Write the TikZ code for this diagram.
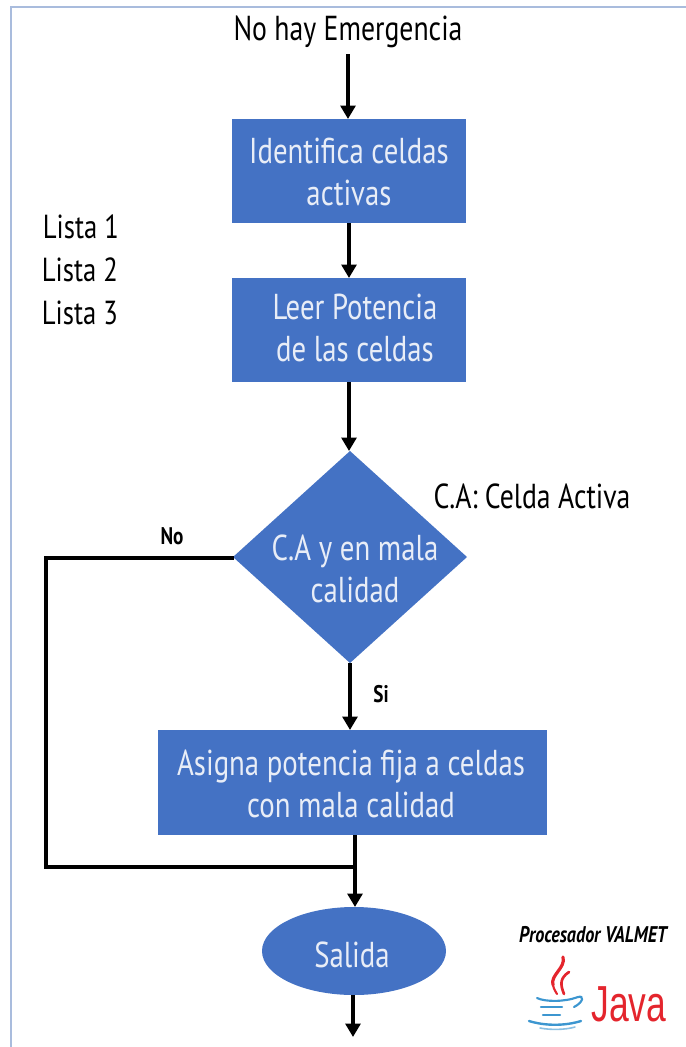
\documentclass[tikz,border=0pt]{standalone}
\usepackage{fontspec}
\setmainfont[FakeStretch=0.8]{PT Sans}
\newfontfamily\javafont[FakeStretch=0.7]{Liberation Sans}
\usetikzlibrary{arrows.meta,shapes.geometric,calc}
\definecolor{fillblue}{HTML}{4472C4}
\definecolor{framecol}{HTML}{A9BCDD}
\definecolor{softwhite}{HTML}{E8EDF7}
\definecolor{javared}{HTML}{E4252D}
\definecolor{javablue}{HTML}{3C96D0}
\tikzset{
 blk/.style={font=\fontsize{26}{26}\selectfont,text=black,inner sep=0,align=center},
 lst/.style={font=\fontsize{25}{25}\selectfont,text=black,inner sep=0,align=center},
 wht/.style={font=\fontsize{27}{31}\selectfont,text=softwhite,inner sep=0,align=center},
 smallb/.style={font=\bfseries\fontsize{18}{18}\selectfont,text=black,inner sep=0},
 conn/.style={line width=2.7pt,draw=black},
 arr/.style={conn,-{Triangle[length=10pt,width=11pt]}},
}
\begin{document}
\begin{tikzpicture}[x=0.75pt,y=-0.75pt]
\useasboundingbox (0,0) rectangle (686,1047);
\draw[framecol,line width=1.5pt] (10.5,1047) -- (10.5,6.5) -- (686,6.5);
% boxes
\fill[fillblue] (232,119) rectangle (466,223);
\node[coordinate] (b1n) at (348,119) {};
\node[coordinate] (b1s) at (349,223) {};
\fill[fillblue] (232,278) rectangle (466,382);
\node[coordinate] (b2n) at (349,278) {};
\node[coordinate] (b2s) at (349,382) {};
\fill[fillblue] (350,451) -- (467,557) -- (350,663) -- (233,557) -- cycle;
\node[coordinate] (dn) at (349,451) {};
\node[coordinate] (ds) at (350,663) {};
\node[coordinate] (dw) at (234,558) {};
\fill[fillblue] (158,730) rectangle (547,835);
\node[coordinate] (b3n) at (350,730) {};
\node[coordinate] (b3s) at (355,835) {};
\fill[fillblue] (354,951) ellipse [x radius=92,y radius=44];
\node[coordinate] (en) at (355,907) {};
\node[coordinate] (es) at (353,995) {};
% texts
\node[blk] (top) at (348,32) {No hay Emergencia};
\node[wht] (t1) at (349,172) {Identifica celdas\\activas};
\node[wht] (t2) at (355,328) {Leer Potencia\\de las celdas};
\node[wht] (t3) at (355,569) {C.A y en mala\\calidad};
\node[wht] (t4) at (351,784) {Asigna potencia fija a celdas\\con mala calidad};
\node[wht] (t5) at (352,955) {Salida};
\node[lst] (l1) at (81,227) {Lista 1};
\node[lst] (l2) at (80,270) {Lista 2};
\node[lst] (l3) at (80,313) {Lista 3};
\node[blk] (ca) at (532,496) {C.A: Celda Activa};
\node[smallb] (no) at (172,536) {No};
\node[smallb] (si) at (381,694) {Si};
\node[inner sep=0,font=\bfseries\itshape\fontsize{17}{17}\selectfont] (pv) at (593,935) {Procesador VALMET};
% connectors
\coordinate (s0) at (348,54);
\coordinate (junc) at (355,867);
\coordinate (c1) at (46,558);
\coordinate (c2) at (46,867);
\coordinate (end) at (353,1037);
\draw[arr] (s0) -- (b1n);
\draw[arr] (b1s) -- (b2n);
\draw[arr] (b2s) -- (dn);
\draw[arr] (ds) -- (b3n);
\draw[conn] (dw) -- (c1) -- (c2) -- (junc);
\draw[arr] (b3s) -- (en);
\draw[arr] (es) -- (end);
% Java logo
\node[inner sep=0,text=javared,font=\javafont\fontsize{38}{38}\selectfont] (jv) at (629,1004) {Java};
\begin{scope}[line cap=round]
\draw[javared,line width=2.4pt] (563,957) .. controls (566,968) and (550,975) .. (553,985);
\draw[javared,line width=1.6pt] (553,985) .. controls (554,990) and (556,992) .. (557,994);
\draw[javared,line width=2pt] (569,972) .. controls (560,978) and (560,984) .. (564,994);
\draw[javablue,line width=1.6pt] (537,998) .. controls (545,1002) and (565,1002) .. (578,997);
\draw[javablue,line width=1.6pt] (578,997) .. controls (584,995) and (584,1002) .. (574,1007);
\draw[javablue,line width=1.8pt] (541,1007) -- (562,1007);
\draw[javablue,line width=1.8pt] (543,1015) -- (560,1015);
\draw[javablue,line width=1.8pt] (529,1021) .. controls (545,1026) and (565,1026) .. (581,1021);
\draw[javablue!60,line width=1.2pt] (540,1028) .. controls (550,1030) and (565,1030) .. (575,1027);
\end{scope}
\end{tikzpicture}
\end{document}
